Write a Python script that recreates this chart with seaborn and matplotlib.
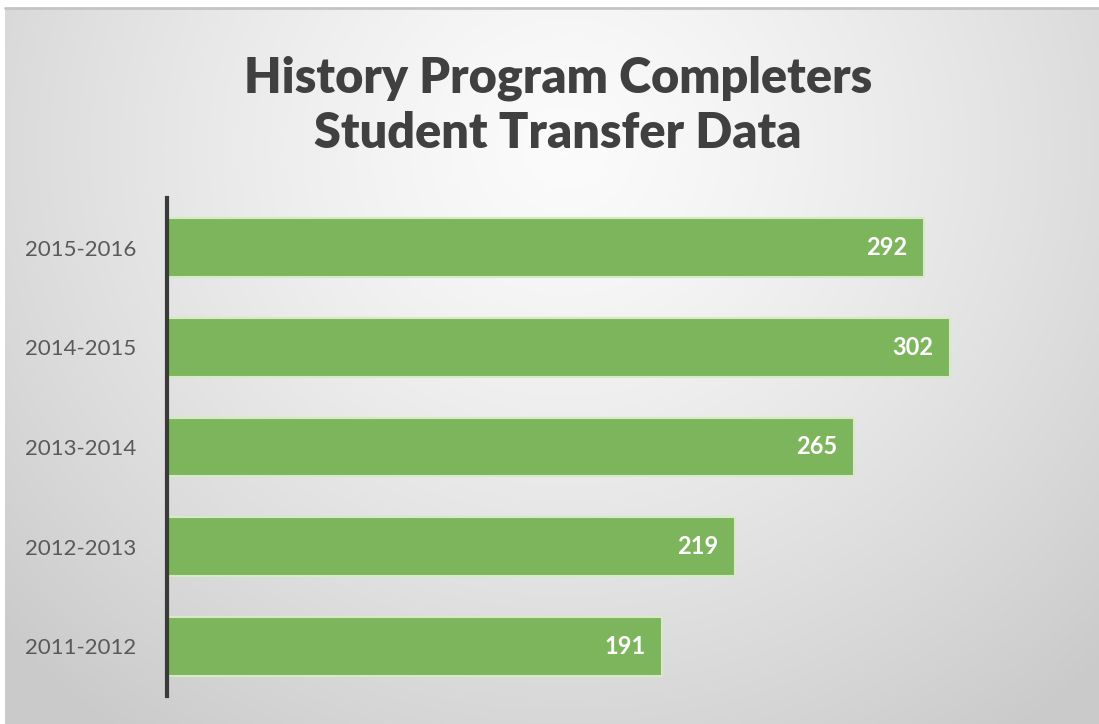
import numpy as np
import pandas as pd
import matplotlib
matplotlib.use("Agg")
import matplotlib.pyplot as plt
import seaborn as sns

years = ["2015-2016", "2014-2015", "2013-2014", "2012-2013", "2011-2012"]
completers = [292, 302, 265, 219, 191]
title_lines = ["History Program Completers", "Student Transfer Data"]

df = pd.DataFrame({"year": years, "value": completers})

sns.set_style("white")
plt.rcParams["font.family"] = ["Lato", "DejaVu Sans"]

W, H = 1099, 724
fig = plt.figure(figsize=(W / 100, H / 100), dpi=100)
fig.patch.set_facecolor("white")

# background radial gradient
bg = fig.add_axes([5 / W, -0.01, 1 - 5 / W + 0.02, 1 - 8 / H + 0.01])
bg.set_axis_off()
yy, xx = np.mgrid[0:724, 0:1116]
cx, cy = 560, 140
d = np.sqrt(((xx - cx) / 760) ** 2 + ((yy - cy) / 720) ** 2)
val = 0.985 - 0.19 * np.clip(d, 0, 1) ** 1.3
img = np.dstack([val, val, val])
bg.imshow(img, aspect="auto", extent=[0, 1, 0, 1], interpolation="bilinear")
bg.axhline(1, color="#c4c4c4", lw=2, clip_on=False)
bg.set_xlim(0, 1)
bg.set_ylim(0, 1)

ax = fig.add_axes([167 / W, 1 - 696 / H, (1090 - 167) / W, 498 / H])
ax.patch.set_alpha(0)
sns.barplot(data=df, y="year", x="value", orient="h", ax=ax,
            color="#7db55c", saturation=1, width=0.59,
            edgecolor="#d4ebc4", linewidth=1.5)
ax.set_xlim(0, 356)
ax.set_ylim(4.5, -0.5)
ax.set_xlabel("")
ax.set_ylabel("")
ax.set_xticks([])
for s in ["top", "right", "bottom"]:
    ax.spines[s].set_visible(False)
ax.spines["left"].set_color("#3a3a3a")
ax.spines["left"].set_linewidth(3)
ax.tick_params(axis="y", length=0, pad=22, labelsize=16, labelcolor="#595959")

for i, v in enumerate(completers):
    ax.text(v - 6.5, i, str(v), ha="right", va="center", color="white",
            fontsize=17, fontweight="bold")

fig.text(558 / W, 1 - 78 / H, title_lines[0], ha="center", va="center",
         fontsize=35, fontweight="heavy", color="#404040")
fig.text(558 / W, 1 - 133 / H, title_lines[1], ha="center", va="center",
         fontsize=35, fontweight="heavy", color="#404040")

fig.savefig("out.png", dpi=100)
